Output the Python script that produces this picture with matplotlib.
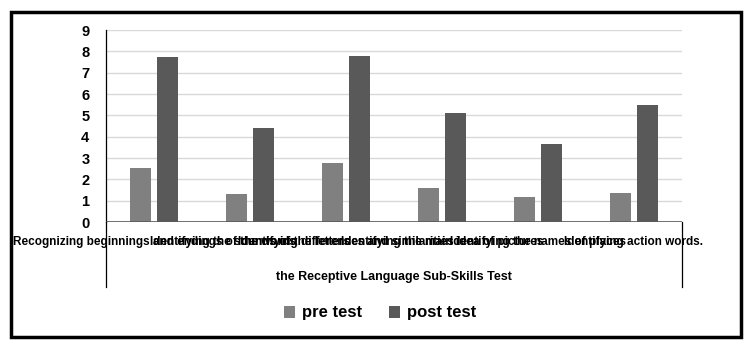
import matplotlib
matplotlib.use("Agg")
import matplotlib.pyplot as plt
import numpy as np
from matplotlib.patches import Rectangle
from matplotlib.lines import Line2D
from matplotlib.transforms import blended_transform_factory

categories = [
    "Recognizing beginnings and endings of the words",
    "Identifying the sounds of the letters",
    "Identifying differences and similarities",
    "Identifying the main idea of pictures",
    "Identifying the names of places",
    "Identifying action words.",
]
pre_test = [2.55, 1.32, 2.77, 1.60, 1.17, 1.36]
post_test = [7.75, 4.39, 7.78, 5.10, 3.66, 5.48]
series_names = ["pre test", "post test"]
group_title = "the Receptive Language Sub-Skills Test"
y_ticks = list(range(0, 10))

plt.rcParams["font.family"] = ["Liberation Sans", "DejaVu Sans"]

W, H = 748, 343
fig = plt.figure(figsize=(W / 100, H / 100), dpi=100)

def fx(px):
    return px / W

def fy(py):
    return 1 - py / H

# outer frame around the whole chart
fig.patches.append(Rectangle((fx(11), fy(337)), fx(741) - fx(11), fy(12) - fy(337),
                             transform=fig.transFigure, fill=False,
                             edgecolor="black", linewidth=2.5))

ax_left, ax_right, ax_top, ax_bottom = 106, 682, 30, 222
ax = fig.add_axes([fx(ax_left), fy(ax_bottom), fx(ax_right) - fx(ax_left),
                   fy(ax_top) - fy(ax_bottom)])

x = np.arange(len(categories))
width = 0.22
offset = 0.145
ax.bar(x - offset, pre_test, width, color="#808080", label=series_names[0], zorder=3)
ax.bar(x + offset, post_test, width, color="#595959", label=series_names[1], zorder=3)

ax.set_xlim(-0.5, len(categories) - 0.5)
ax.set_ylim(0, 9)
ax.set_yticks(y_ticks)
ax.set_yticklabels([str(t) for t in y_ticks], fontsize=10.5, fontweight="bold")
ax.tick_params(axis="y", length=0, pad=12)
ax.set_xticks([])
ax.yaxis.grid(True, color="#d9d9d9", linewidth=1, zorder=0)
for side in ("top", "right", "bottom"):
    ax.spines[side].set_visible(False)
ax.spines["left"].set_color("black")
ax.spines["left"].set_linewidth(0.9)
ax.axhline(0, color="#595959", linewidth=1.2, zorder=4)

# category labels (one line each, centred under their bars)
trans = blended_transform_factory(ax.transData, fig.transFigure)
for xi, name in zip(x, categories):
    ax.text(xi, fy(242), name, transform=trans, ha="center", va="center",
            fontsize=8.5, fontweight="bold", clip_on=False)

# multi-level category box
for px in (ax_left, ax_right):
    fig.lines.append(Line2D([fx(px), fx(px)], [fy(ax_bottom), fy(287)],
                            transform=fig.transFigure, color="black", linewidth=0.9))

fig.text(fx((ax_left + ax_right) / 2), fy(277), group_title, ha="center", va="center",
         fontsize=9, fontweight="bold")

fig.legend(loc="center", bbox_to_anchor=(fx(380), fy(313)), ncol=2, frameon=False,
           prop={"size": 12, "weight": "bold"}, handlelength=0.7, handleheight=0.7,
           handletextpad=0.4, columnspacing=1.6)

fig.savefig("out.png", dpi=100)
